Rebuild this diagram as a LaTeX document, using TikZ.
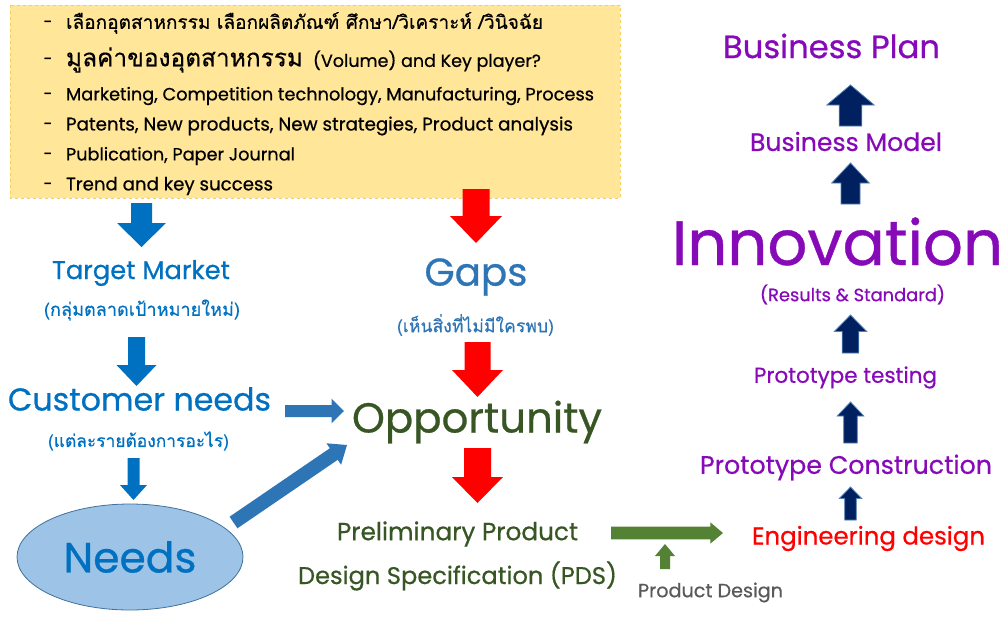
\documentclass[tikz,border=0pt]{standalone}
\usepackage{fontspec}
\usepackage{graphicx}
\setmainfont{Poppins}[FakeBold=0.6]
\newfontfamily\thaifont[Script=Thai,FakeBold=0.5]{Loma}
\usetikzlibrary{calc,shapes.geometric}
\definecolor{boxfill}{RGB}{255,230,153}
\definecolor{boxline}{RGB}{246,205,95}
\definecolor{blueA}{RGB}{0,112,192}
\definecolor{blueB}{RGB}{46,117,182}
\definecolor{needsfill}{RGB}{157,195,230}
\definecolor{needsline}{RGB}{65,113,156}
\definecolor{greenT}{RGB}{55,86,35}
\definecolor{greenA}{RGB}{84,130,53}
\definecolor{grayT}{RGB}{89,89,89}
\definecolor{purpleT}{RGB}{135,10,185}
\definecolor{navyA}{RGB}{0,32,96}
\definecolor{navyline}{RGB}{84,130,180}
\definecolor{redA}{RGB}{255,0,0}
\newcommand\fitto[2]{\resizebox{#1pt}{!}{#2}}
\newcommand\blockarrow[6]{%
  \coordinate (bahead) at ($(#3)!#6!(#2)$);
  \path[#1] ($(#2)!#4!-90:(#3)$) -- ($(bahead)!#4!-90:(#3)$) -- ($(bahead)!#5!-90:(#3)$) -- (#3) -- ($(bahead)!#5!90:(#3)$) -- ($(bahead)!#4!90:(#3)$) -- ($(#2)!#4!90:(#3)$) -- cycle;}
\tikzset{
  txt/.style={inner sep=0pt, outer sep=0pt},
  boxtxt/.style={txt, anchor=west, text=black},
  dashtxt/.style={txt, text=black, font=\fontsize{16}{16}\selectfont},
  bluearrow/.style={fill=blueA},
  blue2arrow/.style={fill=blueB},
  redarrow/.style={fill=redA},
  greenarrow/.style={fill=greenA},
  navyarrow/.style={fill=navyA, draw=navyline, line width=0.8pt},
}
\begin{document}
\begin{tikzpicture}[x=1pt,y=-1pt]
\useasboundingbox (0,0) rectangle (1007,619);
% yellow box
\draw[fill=boxfill, draw=boxline, dashed, line width=0.6pt] (10,5) rectangle (620,198);
\foreach \yy/\nm in {24/d1,61/d2,96/d3,126/d4,156/d5,186/d6}{\node[dashtxt] (\nm) at (48,\yy) {-};}
\node[boxtxt] (l1) at (66,23) {\fitto{477}{\thaifont เลือกอุตสาหกรรม เลือกผลิตภัณฑ์ ศึกษา/วิเคราะห์ /วินิจฉัย}};
\node[boxtxt] (l2a) at (66,60) {\fitto{237}{\thaifont มูลค่าของอุตสาหกรรม}};
\node[boxtxt] (l2b) at (313,61) {\fitto{228}{(Volume) and Key player?}};
\node[boxtxt] (l3) at (66,96) {\fitto{528}{Marketing, Competition technology, Manufacturing, Process}};
\node[boxtxt] (l4) at (66,126) {\fitto{507}{Patents, New products, New strategies, Product analysis}};
\node[boxtxt] (l5) at (66,156) {\fitto{229}{Publication, Paper Journal}};
\node[boxtxt] (l6) at (66,186) {\fitto{207}{Trend and key success}};
% left column
\node[txt, text=blueA] (tm) at (141,273) {\fitto{178}{Target Market}};
\node[txt, text=blueA] (tmth) at (142,310) {\fitto{196}{\thaifont (กลุ่มตลาดเป้าหมายใหม่)}};
\node[txt, text=blueA] (cn) at (139.5,399) {\fitto{263}{Customer needs}};
\node[txt, text=blueA] (cnth) at (138.5,441) {\fitto{181}{\thaifont (แต่ละรายต้องการอะไร)}};
\node[ellipse, draw=needsline, fill=needsfill, line width=0.8pt, minimum width=226pt, minimum height=106pt, inner sep=0pt] (needsE) at (130,557) {};
\node[txt, text=blueA] (needs) at (130,557) {\fitto{133}{Needs}};
% middle column
\node[txt, text=blueB] (gaps) at (476,277) {\fitto{103}{Gaps}};
\node[txt, text=blueB] (gapsth) at (475.5,325) {\fitto{157}{\thaifont (เห็นสิ่งที่ไม่มีใครพบ)}};
\node[txt, text=greenT] (opp) at (477,422) {\fitto{250}{Opportunity}};
\node[txt, text=greenT] (pds1) at (457.5,534) {\fitto{241}{Preliminary Product}};
\node[txt, text=greenT] (pds2) at (457.5,576) {\fitto{319}{Design Specification (PDS)}};
\node[txt, text=grayT] (pd) at (710.5,592.5) {\fitto{145}{Product Design}};
% right column
\node[txt, text=redA] (eng) at (868.5,538.5) {\fitto{233}{Engineering design}};
\node[txt, text=purpleT] (pc) at (846,467.5) {\fitto{292}{Prototype Construction}};
\node[txt, text=purpleT] (pt) at (845.5,377.5) {\fitto{183}{Prototype testing}};
\node[txt, text=purpleT] (rs) at (852.5,294.5) {\fitto{185}{(Results \& Standard)}};
\node[txt, text=purpleT] (inno) at (837.5,241.5) {\fitto{331}{Innovation}};
\node[txt, text=purpleT] (bm) at (846,141.5) {\fitto{192}{Business Model}};
\node[txt, text=purpleT] (bp) at (831.5,46) {\fitto{217}{Business Plan}};
% arrow end points
\coordinate (a1s) at (141.5,203); \coordinate (a1e) at (141.5,247);
\coordinate (a2s) at (476,189);   \coordinate (a2e) at (476,243);
\coordinate (a3s) at (136.5,337); \coordinate (a3e) at (136.5,386);
\coordinate (a4s) at (133.5,458); \coordinate (a4e) at (133.5,500);
\coordinate (a5s) at (285,411);   \coordinate (a5e) at (344,411);
\coordinate (a6s) at (233.5,522.5); \coordinate (a6e) at (347,445);
\coordinate (a7s) at (477.5,342); \coordinate (a7e) at (477.5,397);
\coordinate (a8s) at (477.5,448); \coordinate (a8e) at (477.5,503);
\coordinate (a9s) at (611,533);   \coordinate (a9e) at (723,533);
\coordinate (a10s) at (665,569);  \coordinate (a10e) at (665,544);
\coordinate (n1s) at (850.5,126); \coordinate (n1e) at (850.5,85);
\coordinate (n2s) at (850.5,204); \coordinate (n2e) at (850.5,163);
\coordinate (n3s) at (850.5,353); \coordinate (n3e) at (850.5,315);
\coordinate (n4s) at (850.5,443); \coordinate (n4e) at (850.5,402);
\coordinate (n5s) at (850.5,520); \coordinate (n5e) at (850.5,487);
% block arrows
\blockarrow{bluearrow}{a1s}{a1e}{10.5pt}{24.5pt}{24pt}
\blockarrow{redarrow}{a2s}{a2e}{13.5pt}{26pt}{27pt}
\blockarrow{bluearrow}{a3s}{a3e}{8.5pt}{20pt}{21pt}
\blockarrow{bluearrow}{a4s}{a4e}{6pt}{13.5pt}{15pt}
\blockarrow{blue2arrow}{a5s}{a5e}{6pt}{12.3pt}{12.5pt}
\blockarrow{blue2arrow}{a6s}{a6e}{7pt}{13pt}{16pt}
\blockarrow{redarrow}{a7s}{a7e}{13pt}{25.5pt}{27pt}
\blockarrow{redarrow}{a8s}{a8e}{13.5pt}{25.5pt}{26pt}
\blockarrow{greenarrow}{a9s}{a9e}{6.3pt}{10.7pt}{12.7pt}
\blockarrow{greenarrow}{a10s}{a10e}{5pt}{10pt}{12pt}
\blockarrow{navyarrow}{n1s}{n1e}{11.3pt}{23.7pt}{20pt}
\blockarrow{navyarrow}{n2s}{n2e}{9.5pt}{18.8pt}{20pt}
\blockarrow{navyarrow}{n3s}{n3e}{8.3pt}{16.2pt}{16.5pt}
\blockarrow{navyarrow}{n4s}{n4e}{6.8pt}{13.3pt}{14pt}
\blockarrow{navyarrow}{n5s}{n5e}{5.8pt}{11.2pt}{11.5pt}
\end{tikzpicture}
\end{document}
